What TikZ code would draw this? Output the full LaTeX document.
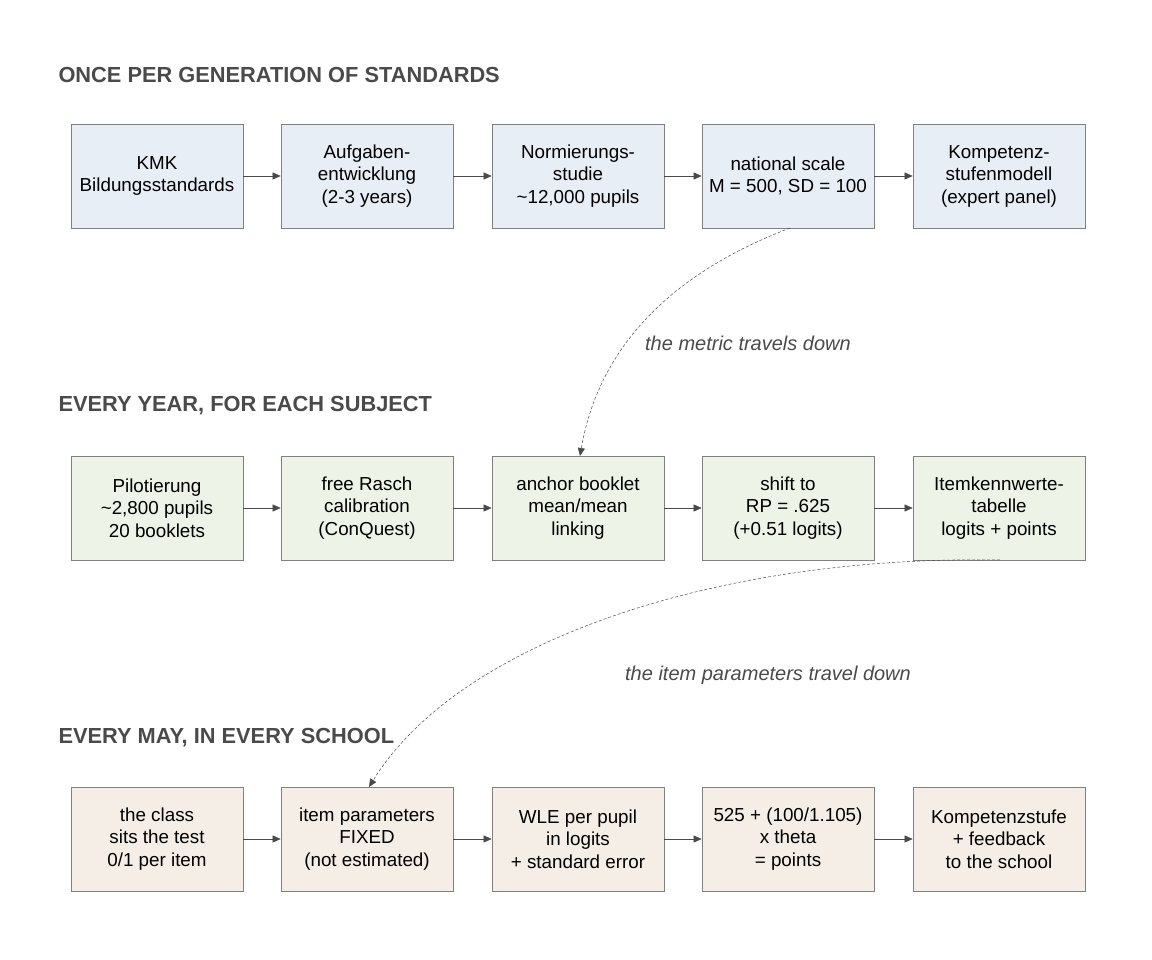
\documentclass[tikz,border=0pt]{standalone}
\usepackage{fontspec}
\setmainfont{Liberation Sans}
\usetikzlibrary{arrows.meta}
\definecolor{bl}{HTML}{E8EEF6}
\definecolor{gr}{HTML}{EDF3E7}
\definecolor{be}{HTML}{F5EEE6}
\definecolor{ed}{HTML}{808080}
\definecolor{hd}{HTML}{4A4A4A}
\begin{document}
\begin{tikzpicture}[x=1pt,y=-1pt,
 box/.style={draw=ed,line width=0.7pt,minimum width=172pt,minimum height=104pt,align=center,font=\fontsize{18.8}{22.5}\selectfont,inner sep=1pt},
 hd/.style={anchor=west,text=hd,font=\bfseries\fontsize{21.8}{24}\selectfont},
 ar/.style={draw=hd,line width=0.6pt,-{Triangle[length=8pt,width=7pt]}},
 da/.style={draw=hd,line width=0.5pt,dash pattern=on 3pt off 2pt,-{Triangle[length=8pt,width=7pt]}},
 lb/.style={text=hd,font=\itshape\fontsize{20}{23}\selectfont}]
\useasboundingbox (0,0) rectangle (1152,960);
\node[hd] (h1) at (55,75) {ONCE PER GENERATION OF STANDARDS};
\node[hd] (h2) at (55,406) {EVERY YEAR, FOR EACH SUBJECT};
\node[hd] (h3) at (55,738) {EVERY MAY, IN EVERY SCHOOL};
\foreach \n/\x/\t in {a1/157/{KMK\\Bildungsstandards},a2/367/{Aufgaben-\\entwicklung\\(2-3 years)},a3/578/{Normierungs-\\studie\\\textasciitilde12,000 pupils},a4/788/{national scale\\M = 500, SD = 100},a5/999/{Kompetenz-\\stufenmodell\\(expert panel)}}
 \node[box,fill=bl] (\n) at (\x,176) {\t};
\foreach \n/\x/\t in {b1/157/{Pilotierung\\\textasciitilde2,800 pupils\\20 booklets},b2/367/{free Rasch\\calibration\\(ConQuest)},b3/578/{anchor booklet\\mean/mean\\linking},b4/788/{shift to\\RP = .625\\(+0.51 logits)},b5/999/{Itemkennwerte-\\tabelle\\logits + points}}
 \node[box,fill=gr] (\n) at (\x,508) {\t};
\foreach \n/\x/\t in {c1/157/{the class\\sits the test\\0/1 per item},c2/367/{item parameters\\FIXED\\(not estimated)},c3/578/{WLE per pupil\\in logits\\+ standard error},c4/788/{525 + (100/1.105)\\x theta\\= points},c5/999/{Kompetenzstufe\\+ feedback\\to the school}}
 \node[box,fill=be] (\n) at (\x,839) {\t};
\foreach \r in {a,b,c}{
 \draw[ar] (\r1) -- (\r2); \draw[ar] (\r2) -- (\r3); \draw[ar] (\r3) -- (\r4); \draw[ar] (\r4) -- (\r5);}
\coordinate (s1) at (790,228);
\coordinate (t1) at (580,456);
\draw[da] (s1) .. controls (680,270) and (600,340) .. (t1);
\node[lb] (l1) at (748,343) {the metric travels down};
\coordinate (s2) at (1000,560);
\coordinate (t2) at (369,787);
\draw[da] (s2) .. controls (720,555) and (460,640) .. (t2);
\node[lb] (l2) at (768,675) {the item parameters travel down};
\end{tikzpicture}
\end{document}
